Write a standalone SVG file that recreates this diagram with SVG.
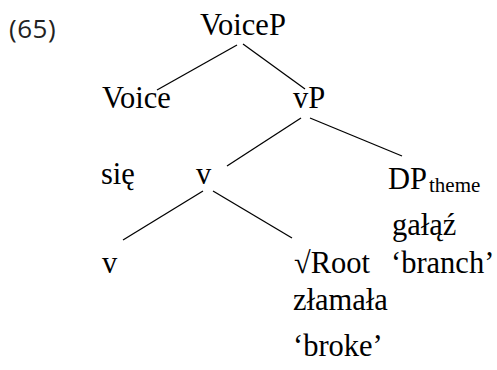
<svg xmlns="http://www.w3.org/2000/svg" width="497" height="370" viewBox="0 0 497 370">
  <style>
    .lbl { font-family: "Liberation Serif", "Times New Roman", serif; font-size: 30.5px; fill: #000; }
    .sub { font-size: 21px; }
    .num { font-family: "Open Sans", "Noto Sans", sans-serif; font-size: 26px; letter-spacing: 0.5px; fill: #222; }
    .edge { stroke: #000; stroke-width: 1.3; fill: none; }
  </style>
  <rect width="497" height="370" fill="#fff"/>
  <text class="num" x="9" y="38">(65)</text>

  <g id="connectors">
    <line class="edge" x1="237" y1="45" x2="157" y2="90"/>
    <line class="edge" x1="243" y1="44" x2="305" y2="89"/>
    <line class="edge" x1="301" y1="118" x2="227" y2="166"/>
    <line class="edge" x1="310" y1="118" x2="402" y2="156"/>
    <line class="edge" x1="203" y1="191" x2="123" y2="240"/>
    <line class="edge" x1="213" y1="191" x2="292" y2="238"/>
  </g>

  <g id="node-voicep"><text class="lbl" x="200" y="35">VoiceP</text></g>
  <g id="node-voice"><text class="lbl" x="102" y="108">Voice</text></g>
  <g id="node-vp"><text class="lbl" x="293" y="108">vP</text></g>
  <g id="node-sie"><text class="lbl" x="101" y="184">się</text></g>
  <g id="node-v-upper"><text class="lbl" x="196" y="184">v</text></g>
  <g id="node-dp"><text class="lbl" x="388" y="189">DP<tspan class="sub" dx="2" dy="3">theme</tspan></text></g>
  <g id="node-galaz"><text class="lbl" x="392" y="235">gałąź</text></g>
  <g id="node-v-lower"><text class="lbl" x="102" y="273">v</text></g>
  <g id="node-root"><text class="lbl" x="294" y="273">√Root</text></g>
  <g id="node-branch"><text class="lbl" x="391" y="273">‘branch’</text></g>
  <g id="node-zlamala"><text class="lbl" x="293" y="310">złamała</text></g>
  <g id="node-broke"><text class="lbl" x="293" y="356">‘broke’</text></g>
</svg>
